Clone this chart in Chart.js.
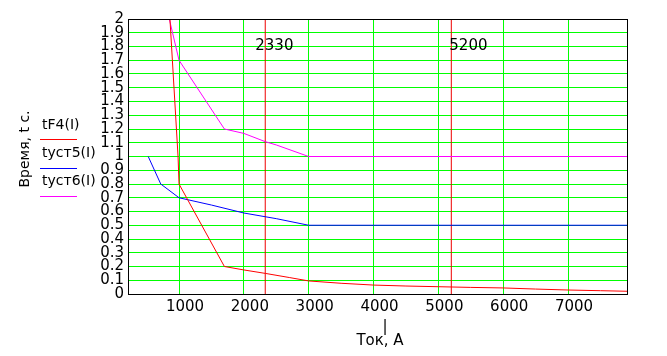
<!DOCTYPE html>
<html><head><meta charset="utf-8">
<script src="https://cdn.jsdelivr.net/npm/chart.js@4/dist/chart.umd.min.js"></script>
<style>html,body{margin:0;padding:0;background:#fff;}#wrap{width:667px;height:356px;position:relative;}</style>
</head><body><div id="wrap"><canvas id="c" width="667" height="356"></canvas></div>
<script>
// ---- data ----
const seriesNames = ["tF4(I)", "tуст5(I)", "tуст6(I)"];
const tF4_I = [860, 985, 1000, 1700, 2000, 2330, 2700, 3000, 3500, 4000, 4500, 5000, 5500, 6000, 6500, 7000, 7500, 7910];
const tF4_t = [2.0, 1.0, 0.8, 0.2, 0.175, 0.15, 0.12, 0.095, 0.078, 0.065, 0.058, 0.053, 0.048, 0.044, 0.036, 0.029, 0.024, 0.02];
const tust5_I = [525, 718, 1000, 1500, 2000, 2500, 3000, 7910];
const tust5_t = [1.0, 0.8, 0.7, 0.647, 0.589, 0.548, 0.5, 0.5];
const tust6_I = [850, 1000, 1700, 2000, 2330, 2500, 3000, 7910];
const tust6_t = [2.0, 1.7, 1.2, 1.168, 1.108, 1.084, 1.0, 1.0];
const markerCurrents = [2330, 5200];
const markerLabels = ["2330", "5200"];
const xTickValues = [1000, 2000, 3000, 4000, 5000, 6000, 7000];
const xTickLabels = ["1000", "2000", "3000", "4000", "5000", "6000", "7000"];
const yTickValues = [0, 0.1, 0.2, 0.3, 0.4, 0.5, 0.6, 0.7, 0.8, 0.9, 1, 1.1, 1.2, 1.3, 1.4, 1.5, 1.6, 1.7, 1.8, 1.9, 2];
const yTickLabels = ["0", "0.1", "0.2", "0.3", "0.4", "0.5", "0.6", "0.7", "0.8", "0.9", "1", "1.1", "1.2", "1.3", "1.4", "1.5", "1.6", "1.7", "1.8", "1.9", "2"];
const xMin = 213, xMax = 7910, yMin = 0, yMax = 2;
const xTitle = "Ток, А";
const yTitle = "Время, t с.";

const colors = ["#ff0000", "#0000ff", "#ff00ff"];
const FONT = "DejaVu Sans";

function pts(xs, ys) { return xs.map((x, i) => ({x: x, y: ys[i]})); }

const datasets = [
  {label: seriesNames[0], data: pts(tF4_I, tF4_t), borderColor: colors[0]},
  {label: seriesNames[1], data: pts(tust5_I, tust5_t), borderColor: colors[1]},
  {label: seriesNames[2], data: pts(tust6_I, tust6_t), borderColor: colors[2]},
];
markerCurrents.forEach(v => datasets.push({label: "m" + v, data: [{x: v, y: yMin}, {x: v, y: yMax}], borderColor: "#ee0000"}));
datasets.forEach(d => { d.borderWidth = 1; d.pointRadius = 0; d.tension = 0; d.fill = false; });

const decor = {
  id: "decor",
  afterDatasetsDraw(chart) {
    const ctx = chart.ctx, a = chart.chartArea;
    const xs = chart.scales.x;
    ctx.save();
    // frame
    ctx.strokeStyle = "#000"; ctx.lineWidth = 1;
    ctx.strokeRect(Math.round(a.left) + 0.5, Math.round(a.top) + 0.5, Math.round(a.right - a.left), Math.round(a.bottom - a.top));
    // marker labels
    ctx.fillStyle = "#000"; ctx.font = "15px '" + FONT + "'";
    ctx.textBaseline = "middle"; ctx.textAlign = "left";
    const offs = [-10, -2];
    markerCurrents.forEach((v, i) => ctx.fillText(markerLabels[i], xs.getPixelForValue(v) + offs[i], 46));
    // legend
    ctx.font = "14px '" + FONT + "'";
    const ly = [125, 153.5, 181.5];
    seriesNames.forEach((n, i) => {
      ctx.fillStyle = "#000";
      ctx.fillText(n, 42, ly[i]);
      ctx.strokeStyle = colors[i];
      ctx.beginPath(); ctx.moveTo(40, Math.round(ly[i] + 14) + 0.5); ctx.lineTo(77, Math.round(ly[i] + 14) + 0.5); ctx.stroke();
    });
    // x title
    ctx.font = "15px '" + FONT + "'";
    ctx.textAlign = "center";
    ctx.fillText("|", 385, 327);
    ctx.fillText(xTitle, 380, 341);
    // y title
    ctx.font = "14px '" + FONT + "'";
    ctx.translate(25, 149); ctx.rotate(-Math.PI / 2);
    ctx.fillText(yTitle, 0, 0);
    ctx.restore();
  }
};

new Chart(document.getElementById("c"), {
  type: "line",
  data: {datasets: datasets},
  plugins: [decor],
  options: {
    responsive: false, animation: false, devicePixelRatio: 1,
    layout: {padding: {left: 0, top: 19, right: 40, bottom: 0}},
    plugins: {legend: {display: false}, tooltip: {enabled: false}},
    scales: {
      x: {
        type: "linear", min: xMin, max: xMax,
        afterFit(s) { s.height = 62; },
        afterBuildTicks(s) { s.ticks = xTickValues.map(v => ({value: v})); },
        grid: {color: "#00ff00", lineWidth: 1, drawTicks: false},
        border: {color: "#000", width: 1},
        ticks: {
          color: "#000", font: {family: FONT, size: 15}, padding: 4, labelOffset: 6,
          maxRotation: 0, autoSkip: false,
          callback: (v) => { const i = xTickValues.indexOf(v); return i >= 0 ? xTickLabels[i] : ""; }
        }
      },
      y: {
        type: "linear", min: yMin, max: yMax,
        afterFit(s) { s.width = 128; },
        afterBuildTicks(s) { s.ticks = yTickValues.map(v => ({value: v})); },
        grid: {color: "#00ff00", lineWidth: 1, drawTicks: false},
        border: {color: "#000", width: 1},
        ticks: {
          color: "#000", font: {family: FONT, size: 15}, padding: 4, autoSkip: false,
          callback: (v) => { const i = yTickValues.findIndex(t => Math.abs(t - v) < 1e-9); return i >= 0 ? yTickLabels[i] : ""; }
        }
      }
    }
  }
});
</script></body></html>
